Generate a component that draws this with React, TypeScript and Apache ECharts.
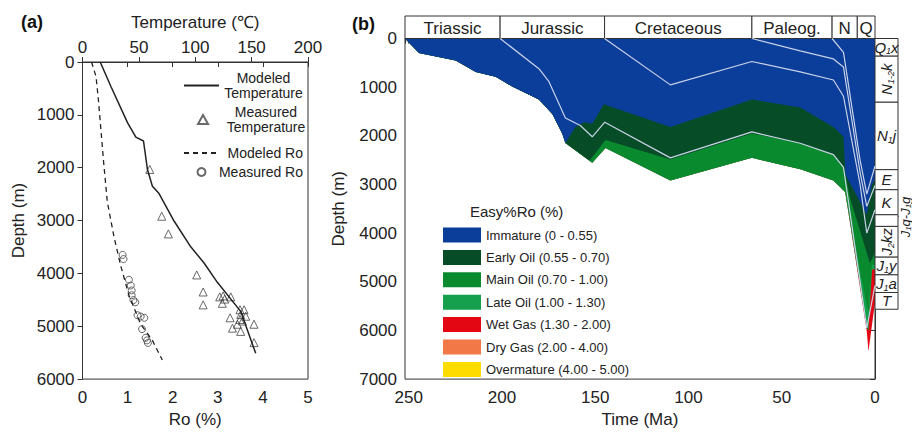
import React, { useEffect, useRef } from "react";
import * as echarts from "echarts";

const FONT = "'Liberation Sans', Arial, sans-serif";

// ---------- Panel (a) ----------
const modTempDepth = [0, 458, 1148, 1422, 1495, 2033, 2350, 2490, 3009, 3497, 3803, 4169, 4718, 5512];
const modTemp = [15.7, 25.1, 39.9, 47.3, 54.1, 57.6, 62.0, 67.9, 81.2, 96.0, 107.8, 119.6, 140.3, 153.6];

const measTempDepth = [2033, 2918, 3253, 4029, 4352, 4596, 4444, 4425, 4486, 4444, 4566, 4688, 4688, 4779, 4810, 4840, 4871, 4901, 4962, 4962, 5036, 5097, 5310];
const measTemp = [59.7, 70.3, 76.2, 101.3, 107, 107, 121.7, 124.7, 126.1, 131.5, 124, 139.7, 143.3, 140.3, 144.8, 130.9, 139.7, 141.8, 137.4, 152.1, 133, 140.3, 152.1];

const modRoDepth = [0, 275, 690, 1300, 1910, 2643, 3315, 3864, 4413, 4962, 5268, 5640];
const modRo = [0.2, 0.3, 0.35, 0.41, 0.47, 0.55, 0.7, 0.85, 1.03, 1.29, 1.55, 1.77];

const measRoDepth = [3650, 3729, 4120, 4230, 4322, 4413, 4505, 4547, 4791, 4816, 4840, 5054, 5219, 5268, 5316];
const measRo = [0.89, 0.91, 1.03, 1.07, 1.09, 1.09, 1.13, 1.17, 1.22, 1.29, 1.37, 1.32, 1.4, 1.43, 1.45];

// ---------- Panel (b) ----------
const periodNames = ["Triassic", "Jurassic", "Cretaceous", "Paleog.", "N", "Q"];
const periodStart = [252, 201, 145, 66, 23, 9.5];
const periodEnd = [201, 145, 66, 23, 9.5, 0];

const formationLabels = [
  "{i|Q}{s|1}{i|x}",
  "{i|N}{s|1-2}{i|k}",
  "{i|N}{s|1}{i|j}",
  "{i|E}",
  "{i|K}",
  "",
  "{i|J}{s|2}{i|kz}",
  "{i|J}{s|1}{i|y}",
  "{i|J}{s|1}{i|a}",
  "{i|T}",
];
const formationTop = [0, 353, 1273, 2620, 3020, 3520, 3753, 4367, 4720, 5073];
const formationBase = [353, 1273, 2620, 3020, 3520, 3753, 4367, 4720, 5073, 5407];
const formationVertical = [false, true, false, false, false, false, true, false, false, false];

// zone boundary curves (time Ma, depth m)
const basementTime = [252, 244.5, 224.8, 214, 203.4, 194.5, 180.2, 173, 167.7, 166, 151.6, 144.5, 109.7, 66, 40, 22.3, 16, 4.4, 3.5, 0];
const basementDepth = [0, 300, 453, 687, 787, 987, 1253, 1553, 1953, 2150, 2553, 2253, 2920, 2453, 2687, 2920, 3153, 6020, 6430, 5420];

const wetGasTopTime = [252, 244.5, 224.8, 214, 203.4, 194.5, 180.2, 173, 167.7, 166, 151.6, 144.5, 109.7, 66, 40, 22.3, 16, 4.4, 3.5, 1.6, 0];
const wetGasTopDepth = [0, 300, 453, 687, 787, 987, 1253, 1553, 1953, 2150, 2553, 2253, 2920, 2453, 2687, 2920, 3153, 5950, 6000, 4750, 4750];

const lateOilTopTime = [252, 244.5, 224.8, 214, 203.4, 194.5, 180.2, 173, 167.7, 166, 151.6, 144.5, 109.7, 66, 40, 22.3, 16, 4.4, 3.5, 1.6, 0];
const lateOilTopDepth = [0, 300, 453, 687, 787, 987, 1253, 1553, 1953, 2150, 2553, 2253, 2920, 2453, 2687, 2920, 3153, 5500, 5600, 4650, 4650];

const mainOilTopTime = [252, 244.5, 224.8, 214, 203.4, 194.5, 180.2, 173, 167.7, 166, 153, 144.5, 109.7, 66, 40, 22.3, 16.9, 13.4, 2.7, 0];
const mainOilTopDepth = [0, 300, 453, 687, 787, 987, 1253, 1553, 1953, 2150, 2510, 2087, 2487, 1953, 2153, 2387, 2620, 3280, 4620, 4400];

const earlyOilTopTime = [252, 244.5, 224.8, 214, 203.4, 194.5, 180.2, 173, 167.7, 166, 160.6, 156, 151.6, 145.4, 109.7, 66, 40.1, 22.3, 16.9, 15.8, 4.4, 1.8, 0];
const earlyOilTopDepth = [0, 300, 453, 687, 787, 987, 1253, 1553, 1953, 2150, 1820, 1720, 1753, 1353, 1820, 1253, 1420, 1820, 2020, 2800, 3620, 3020, 2900];

// horizon burial curves
const hJTime = [201, 180.2, 174.8, 166, 158, 151.6, 144.9, 109.7, 66, 40.1, 22.3, 16.9, 4.4, 0];
const hJDepth = [0, 620, 887, 1633, 1787, 2020, 1720, 2453, 1920, 2153, 2387, 2650, 5950, 5073];
const hKTime = [145, 109.7, 66, 40.1, 22.3, 16.9, 8, 4.4, 0];
const hKDepth = [0, 953, 473, 687, 853, 1187, 3000, 4000, 3520];
const hETime = [66, 40.1, 22.3, 16.9, 8, 4.4, 0];
const hEDepth = [0, 253, 420, 587, 2750, 3450, 3020];
const hNTime = [23, 16.9, 8, 4.4, 0];
const hNDepth = [0, 287, 2500, 3200, 2620];

const zoneNames = [
  "Immature (0 - 0.55)",
  "Early Oil (0.55 - 0.70)",
  "Main Oil (0.70 - 1.00)",
  "Late Oil (1.00 - 1.30)",
  "Wet Gas (1.30 - 2.00)",
  "Dry Gas (2.00 - 4.00)",
  "Overmature (4.00 - 5.00)",
];
const zoneColors = ["#0b3d9b", "#064d27", "#0a8a2e", "#14a04c", "#e30613", "#f37848", "#ffdc00"];

const zip = (xs: number[], ys: number[]) => xs.map((x, i) => [x, ys[i]]);

const axisCommon = {
  axisLine: { show: true, lineStyle: { color: "#333", width: 1 } },
  axisTick: { show: true, length: 5, lineStyle: { color: "#333" } },
  splitLine: { show: false },
  nameTextStyle: { fontSize: 17, color: "#222", fontFamily: FONT },
};
const lbl = (margin: number) => ({ fontSize: 17, color: "#222", fontFamily: FONT, margin, formatter: (v: number) => String(v) });

const hiddenSymbol = { color: "rgba(0,0,0,0)", borderWidth: 0, opacity: 0 };
const richLegend = (w: number, align: string) => ({ width: w, align, fontSize: 14, lineHeight: 15, color: "#222", fontFamily: FONT });

function buildOption() {
  const zoneSeries = [
    { idx: 4, t: basementTime, d: basementDepth },
    { idx: 3, t: wetGasTopTime, d: wetGasTopDepth },
    { idx: 2, t: lateOilTopTime, d: lateOilTopDepth },
    { idx: 1, t: mainOilTopTime, d: mainOilTopDepth },
    { idx: 0, t: earlyOilTopTime, d: earlyOilTopDepth },
  ].map((z) => ({
    name: zoneNames[z.idx],
    type: "line",
    xAxisIndex: 2,
    yAxisIndex: 1,
    data: zip(z.t, z.d),
    symbol: "none",
    color: zoneColors[z.idx],
    itemStyle: { color: zoneColors[z.idx] },
    lineStyle: { width: 0, color: zoneColors[z.idx] },
    areaStyle: { color: zoneColors[z.idx], opacity: 1 },
    silent: true,
    z: 2,
  }));
  const dummy = [5, 6].map((i) => ({
    name: zoneNames[i],
    type: "line",
    xAxisIndex: 2,
    yAxisIndex: 1,
    data: [],
    color: zoneColors[i],
    itemStyle: { color: zoneColors[i] },
  }));
  const horizons = [
    [hJTime, hJDepth],
    [hKTime, hKDepth],
    [hETime, hEDepth],
    [hNTime, hNDepth],
  ].map(([t, d]) => ({
    type: "line",
    xAxisIndex: 2,
    yAxisIndex: 1,
    data: zip(t as number[], d as number[]),
    symbol: "none",
    lineStyle: { color: "#c9d2e6", width: 1.2 },
    silent: true,
    z: 3,
  }));

  const richFm = {
    i: { fontSize: 15, fontStyle: "italic", fontFamily: FONT, fill: "#222", color: "#222" },
    s: { fontSize: 9, fontStyle: "italic", fontFamily: FONT, fill: "#222", color: "#222", verticalAlign: "bottom", padding: [8, 0, 0, 0] },
  };

  return {
    animation: false,
    textStyle: { fontFamily: FONT },
    grid: [
      { left: 82.5, top: 62, width: 225.5, height: 328, show: true, borderColor: "#333", borderWidth: 1 },
      { left: 405, top: 38.5, width: 470, height: 350.5, show: true, borderColor: "#333", borderWidth: 1 },
      { left: 405, top: 16, width: 470, height: 22.5 },
      { left: 875, top: 38.5, width: 23, height: 350.5 },
    ],
    xAxis: [
      { ...axisCommon, type: "value", gridIndex: 0, position: "bottom", min: 0, max: 5, interval: 1, name: "Ro (%)", nameLocation: "middle", nameGap: 26, axisLabel: lbl(10) },
      { ...axisCommon, type: "value", gridIndex: 0, position: "top", min: 0, max: 200, interval: 50, name: "Temperature (℃)", nameLocation: "middle", nameGap: 31, axisLabel: lbl(6) },
      {
        ...axisCommon, type: "value", gridIndex: 1, min: 0, max: 252, inverse: true, interval: 50,
        minorTick: { show: true, splitNumber: 5, length: 3, lineStyle: { color: "#333" } },
        name: "Time (Ma)", nameLocation: "middle", nameGap: 29, axisLabel: { ...lbl(10), showMaxLabel: false },
      },
      { type: "value", gridIndex: 2, min: 0, max: 252, inverse: true, show: false },
      { type: "value", gridIndex: 3, min: 0, max: 1, show: false },
    ],
    yAxis: [
      { ...axisCommon, type: "value", gridIndex: 0, inverse: true, min: 0, max: 6000, interval: 1000, name: "Depth (m)", nameLocation: "middle", nameGap: 56, axisLabel: lbl(8) },
      { ...axisCommon, type: "value", gridIndex: 1, inverse: true, min: 0, max: 7000, interval: 1000, name: "Depth (m)", nameLocation: "middle", nameGap: 58, axisLabel: lbl(8) },
      { type: "value", gridIndex: 2, min: 0, max: 1, show: false },
      { type: "value", gridIndex: 3, min: 0, max: 7000, inverse: true, show: false },
    ],
    legend: [
      {
        orient: "vertical", left: 178, top: 66, itemWidth: 35, itemHeight: 10, selectedMode: false,
        data: [{ name: "Modeled Temperature", itemStyle: hiddenSymbol }],
        formatter: () => "{c|Modeled}\n{c|Temperature}",
        textStyle: { rich: { c: richLegend(79, "center") } },
      },
      {
        orient: "vertical", left: 192, top: 100, itemWidth: 10, itemHeight: 9, selectedMode: false,
        data: [{ name: "Measured Temperature", icon: "triangle" }],
        formatter: () => "{c|Measured}\n{c|Temperature}",
        textStyle: { rich: { c: richLegend(106, "center") } },
      },
      {
        orient: "vertical", left: 178, top: 141, itemWidth: 35, itemHeight: 8, itemGap: 5, selectedMode: false,
        data: [
          { name: "Modeled Ro", itemStyle: hiddenSymbol },
          { name: "Measured Ro", icon: "circle" },
        ],
        formatter: (n: string) => "{r|" + n + "}",
        textStyle: { rich: { r: richLegend(79, "right") } },
      },
      {
        orient: "vertical", left: 438, top: 222.5, itemWidth: 38, itemHeight: 15, itemGap: 7.4, selectedMode: false,
        icon: "rect", data: zoneNames, itemStyle: { borderWidth: 0 },
        textStyle: { fontSize: 13, color: "#222", fontFamily: FONT },
      },
    ],
    graphic: [
      { type: "text", left: 21, top: 13, style: { text: "(a)", fontSize: 18, fontWeight: "bold", fill: "#111", fontFamily: FONT } },
      { type: "text", left: 352, top: 15, style: { text: "(b)", fontSize: 18, fontWeight: "bold", fill: "#111", fontFamily: FONT } },
      { type: "text", left: 470, top: 204, style: { text: "Easy%Ro (%)", fontSize: 15, fill: "#222", fontFamily: FONT } },
      {
        type: "text", x: 905, y: 217, rotation: Math.PI / 2,
        style: {
          text: "{i|J}{s|1}{i|q-J}{s|1}{i|g}",
          rich: { i: { ...richFm.i, fontSize: 13 }, s: { ...richFm.s, fontSize: 8, padding: [6, 0, 0, 0] } },
          align: "center", verticalAlign: "middle",
        },
      },
      { type: "line", shape: { x1: 899, y1: 216, x2: 890, y2: 223 }, style: { stroke: "#333", lineWidth: 0.8 } },
    ],
    series: [
      ...zoneSeries,
      ...dummy,
      ...horizons,
      {
        type: "custom", xAxisIndex: 3, yAxisIndex: 2, silent: true, clip: false,
        data: periodNames.map((_, i) => [periodStart[i], periodEnd[i]]),
        renderItem: (params: any, api: any) => {
          const a = api.coord([api.value(0), 1]);
          const b = api.coord([api.value(1), 0]);
          return {
            type: "group",
            children: [
              { type: "rect", shape: { x: a[0], y: a[1], width: b[0] - a[0], height: b[1] - a[1] }, style: { fill: "#fff", stroke: "#333", lineWidth: 1 } },
              { type: "text", x: (a[0] + b[0]) / 2, y: (a[1] + b[1]) / 2 + 1, style: { text: periodNames[params.dataIndex], align: "center", verticalAlign: "middle", fontSize: 17, fill: "#222", fontFamily: FONT } },
            ],
          };
        },
      },
      {
        type: "custom", xAxisIndex: 4, yAxisIndex: 3, silent: true, clip: false,
        data: formationTop.map((t, i) => [t, formationBase[i]]),
        renderItem: (params: any, api: any) => {
          const a = api.coord([0, api.value(0)]);
          const b = api.coord([1, api.value(1)]);
          const i = params.dataIndex;
          return {
            type: "group",
            children: [
              { type: "rect", shape: { x: a[0], y: a[1], width: b[0] - a[0], height: b[1] - a[1] }, style: { fill: "#fff", stroke: "#333", lineWidth: 1 } },
              {
                type: "text", x: (a[0] + b[0]) / 2, y: (a[1] + b[1]) / 2, rotation: formationVertical[i] ? Math.PI / 2 : 0,
                style: { text: formationLabels[i], rich: richFm, align: "center", verticalAlign: "middle" },
              },
            ],
          };
        },
      },
      {
        name: "Modeled Temperature", type: "line", xAxisIndex: 1, yAxisIndex: 0, data: zip(modTemp, modTempDepth),
        symbol: "none", color: "#222", lineStyle: { color: "#222", width: 1.5 },
      },
      {
        name: "Measured Temperature", type: "scatter", xAxisIndex: 1, yAxisIndex: 0, data: zip(measTemp, measTempDepth),
        symbol: "triangle", symbolSize: 8,
        itemStyle: { color: "rgba(0,0,0,0)", borderColor: "#444", borderWidth: 1 },
      },
      {
        name: "Modeled Ro", type: "line", xAxisIndex: 0, yAxisIndex: 0, data: zip(modRo, modRoDepth),
        symbol: "none", color: "#222", lineStyle: { color: "#222", width: 1.3, type: [5, 4] },
      },
      {
        name: "Measured Ro", type: "scatter", xAxisIndex: 0, yAxisIndex: 0, data: zip(measRo, measRoDepth),
        symbol: "circle", symbolSize: 7, itemStyle: { color: "rgba(0,0,0,0)", borderColor: "#444", borderWidth: 1 },
      },
    ],
  };
}

export default function App() {
  const ref = useRef<HTMLDivElement>(null);
  useEffect(() => {
    const chart = echarts.init(ref.current as HTMLDivElement, null, { renderer: "svg" });
    chart.setOption(buildOption() as any);
    return () => chart.dispose();
  }, []);
  return <div ref={ref} style={{ position: "absolute", left: 0, top: 0, width: 912, height: 433, background: "#fff" }} />;
}
